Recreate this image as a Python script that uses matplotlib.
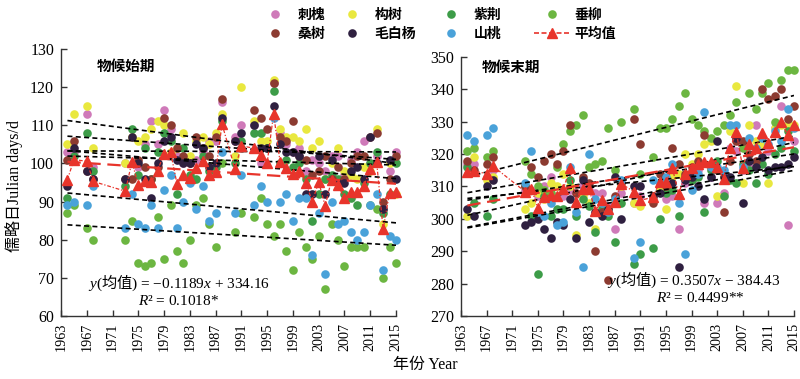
import matplotlib
matplotlib.use('Agg')
import matplotlib.pyplot as plt
from matplotlib.lines import Line2D
import numpy as np

# 字体设置：数字用 Times 风格，中文用 Noto Sans CJK
plt.rcParams['font.family'] = ['Liberation Serif', 'Noto Sans CJK SC']
plt.rcParams['mathtext.fontset'] = 'custom'
plt.rcParams['mathtext.rm'] = 'Noto Sans CJK SC'
plt.rcParams['mathtext.it'] = 'Liberation Serif:italic'

# 年份（1966、1969-1972、1989、1992 无数据）
years = [1964, 1965, 1967, 1968,
         1973, 1974, 1975, 1976, 1977, 1978, 1979, 1980, 1981, 1982, 1983, 1984, 1985, 1986, 1987, 1988,
         1990, 1991,
         1993, 1994, 1995, 1996, 1997, 1998, 1999, 2000, 2001, 2002, 2003, 2004, 2005, 2006, 2007, 2008,
         2009, 2010, 2011, 2012, 2013, 2014, 2015]

species = ['刺槐', '构树', '紫荆', '垂柳', '桑树', '毛白杨', '山桃']
colors = ['#cf7ab9', '#e9e83f', '#3d9c48', '#6cb641', '#8c3b31', '#2f2040', '#4aa2d9']
red = '#e8342b'

# 物候始期 (儒略日)
start_cihuai = [103, 103, 113, 99,
                100, 107, 99, 105, 111, 105, 114, 109, 102, 100, 100, 101, 103, 106, 106, 116,
                107, 110,
                110, 100, 104, 121, 108, 105, 103, 104, 98, 101, 100, 98, 102, 102, 97, 101, 103, 106, 100, 102, 88, 98, 103]
start_goushu = [105, 113, 115, 104,
                100, 107, 106, 107, 109, 111, 110, 103, 104, 108, 102, 106, 107, 105, 108, 113,
                102, 120,
                111, 106, 106, 122, 109, 107, 107, 106, 109, 104, 106, 96, 100, 104, 98, 97, 96, 99, 98, 109, 84, 100, 92]
start_zijing = [91, 102, 108, 98,
                94, 109, 97, 104, 96, 103, 108, 106, 92, 104, 97, 96, 102, 98, 99, 111,
                100, 106,
                108, 108, 104, 119, 100, 101, 99, 100, 96, 85, 92, 96, 97, 96, 92, 91, 89, 95, 100, 103, 87, 92, 100]
start_chuiliu = [87, 89, 83, 80,
                 80, 85, 74, 73, 74, 86, 75, 89, 77, 74, 80, 89, 91, 84, 78, 100,
                 82, 87,
                 86, 91, 84, 81, 84, 77, 72, 82, 78, 75, 81, 67, 84, 80, 73, 78, 78, 78, 89, 88, 70, 78, 74]
start_sangshu = [101, 106, 98, 96,
                 96, 96, 101, 99, 96, 99, 112, 110, 104, 102, 100, 107, 104, 102, 107, 117,
                 106, 104,
                 114, 112, 109, 121, 107, 106, 111, 102, 101, 97, 98, 102, 96, 99, 96, 100, 102, 102, 107, 108, 90, 96, 102]
start_maobaiyang = [94, 104, 98, 96,
                    96, 107, 100, 96, 91, 100, 106, 107, 101, 100, 100, 105, 104, 99, 100, 112,
                    106, 108,
                    110, 104, 104, 115, 105, 103, 103, 102, 92, 92, 102, 92, 101, 95, 95, 98, 99, 96, 107, 100, 88, 101, 96]
start_shantao = [89, 90, 89, 94,
                 83, 92, 84, 83, 89, 83, 93, 97, 83, 90, 95, 88, 94, 85, 87, 103,
                 87, 97,
                 89, 94, 90, 112, 90, 92, 85, 91, 91, 76, 87, 71, 90, 84, 85, 82, 80, 82, 89, 92, 72, 81, 80]

# 物候末期 (儒略日)
end_cihuai = [317, 317, 313, 315,
              309, 309, 307, 310, 313, 307, 307, 309, 308, 310, 309, 308, 308, 304, 297, 308,
              305, 307,
              306, 310, 306, 307, 297, 311, 312, 315, 305, 313, 305, 308, 322, 321, 315, 316, 329, 323, 321, 328, 335, 298, 324]
end_goushu = [301, 319, 312, 313,
              303, 305, 308, 306, 311, 310, 314, 310, 295, 307, 305, 297, 304, 303, 306, 310,
              305, 304,
              307, 309, 303, 313, 314, 320, 317, 320, 323, 324, 307, 313, 327, 341, 311, 329, 324, 323, 311, 328, 329, 329, 329]
end_zijing = [316, 305, 301, 306,
              310, 301, 283, 307, 301, 303, 303, 312, 301, 306, 304, 296, 303, 301, 293, 305,
              286, 289,
              291, 300, 308, 309, 301, 313, 312, 313, 302, 315, 318, 307, 312, 311, 317, 315, 311, 317, 314, 320, 322, 327, 321]
end_chuiliu = [321, 322, 319, 321,
               318, 314, 310, 309, 308, 316, 323, 327, 329, 332, 316, 317, 318, 328, 315, 330,
               334, 314,
               319, 328, 328, 331, 335, 339, 331, 329, 327, 325, 327, 329, 332, 336, 322, 339, 334, 339, 342, 330, 343, 346, 346]
end_sangshu = [318, 315, 317, 319,
               310, 316, 313, 318, 320, 317, 321, 329, 308, 313, 311, 290, 302, 281, 307, 311,
               331, 323,
               305, 314, 310, 322, 317, 314, 316, 318, 326, 316, 315, 302, 318, 324, 324, 320, 318, 340, 337, 338, 340, 331, 335]
end_maobaiyang = [303, 301, 310, 312,
                  298, 299, 300, 297, 294, 299, 298, 306, 294, 312, 299, 302, 301, 303, 313, 300,
                  310, 310,
                  307, 308, 311, 311, 285, 312, 313, 310, 306, 313, 324, 313, 313, 325, 305, 318, 316, 319, 315, 316, 316, 317, 319]
end_shantao = [326, 324, 326, 328,
               311, 321, 302, 301, 305, 298, 299, 316, 302, 285, 320, 306, 305, 302, 306, 312,
               288, 293,
               312, 311, 313, 317, 305, 289, 309, 314, 333, 316, 316, 315, 329, 329, 316, 325, 322, 325, 323, 327, 324, 334, 328]

start_data = [start_cihuai, start_goushu, start_zijing, start_chuiliu, start_sangshu, start_maobaiyang, start_shantao]
end_data = [end_cihuai, end_goushu, end_zijing, end_chuiliu, end_sangshu, end_maobaiyang, end_shantao]
for d in start_data + end_data:
    assert len(d) == len(years)

xticks = [1963, 1967, 1971, 1975, 1979, 1983, 1987, 1991, 1995, 1999, 2003, 2007, 2011, 2015]

W, H = 800, 379
fig = plt.figure(figsize=(W / 100, H / 100), dpi=100)
ax1 = fig.add_axes([61 / W, 1 - 316 / H, 335 / W, 267 / H])
ax2 = fig.add_axes([461 / W, 1 - 316 / H, 333 / W, 259 / H])

cjk = ['Noto Sans CJK SC']


def draw_panel(ax, data, ylim, ystep):
    x = np.array(years, dtype=float)
    # 各树种散点
    for c, vals in zip(colors, data):
        ax.plot(x, vals, 'o', color=c, ms=6.2, mec='none', clip_on=False, zorder=3)
    # 各树种线性趋势
    for vals in data:
        k, b = np.polyfit(x, vals, 1)
        ax.plot([x[0], x[-1]], [k * x[0] + b, k * x[-1] + b], color='black',
                ls=(0, (3, 2)), lw=1.2, zorder=4)
    # 平均值
    mean = np.mean(np.array(data, dtype=float), axis=0)
    ax.plot(x, mean, color=red, ls=(0, (3, 1.5, 1, 1.5)), lw=0.9, marker='^', ms=7.5,
            mec=red, clip_on=False, zorder=5)
    k, b = np.polyfit(x, mean, 1)
    ax.plot([x[0], x[-1]], [k * x[0] + b, k * x[-1] + b], color=red,
            ls=(0, (6, 3)), lw=1.6, zorder=6)

    ax.set_xlim(1963, 2015)
    ax.set_ylim(*ylim)
    ax.set_xticks(xticks)
    ax.set_xticklabels([str(t) for t in xticks], rotation=90)
    ax.set_yticks(np.arange(ylim[0], ylim[1] + 1, ystep))
    ax.spines['top'].set_visible(False)
    ax.spines['right'].set_visible(False)
    for s in ('left', 'bottom'):
        ax.spines[s].set_linewidth(1.0)
        ax.spines[s].set_color('#333333')
    ax.tick_params(direction='in', length=4, width=1, color='#333333')
    ax.tick_params(axis='y', labelsize=11.5, pad=5)
    ax.tick_params(axis='x', labelsize=10.2, pad=5)


draw_panel(ax1, start_data, (60, 130), 10)
draw_panel(ax2, end_data, (270, 350), 10)

ax1.text(0.194, 0.936, '物候始期', transform=ax1.transAxes, ha='center', va='center',
         fontsize=10.5, family=cjk, weight='bold')
ax2.text(0.151, 0.961, '物候末期', transform=ax2.transAxes, ha='center', va='center',
         fontsize=10.5, family=cjk, weight='bold')

ax1.text(0.352, 0.125, r'$\mathit{y}$($\mathrm{均值}$) = −0.1189$\mathit{x}$ + 334.16',
         transform=ax1.transAxes, ha='center', va='center', fontsize=11, zorder=8)
ax1.text(0.351, 0.057, r'$\mathit{R}$² = 0.1018*', transform=ax1.transAxes,
         ha='center', va='center', fontsize=11, zorder=8)
ax2.text(0.699, 0.14, r'$\mathit{y}$($\mathrm{均值}$) = 0.3507$\mathit{x}$ − 384.43',
         transform=ax2.transAxes, ha='center', va='center', fontsize=11, zorder=8)
ax2.text(0.718, 0.07, r'$\mathit{R}$² = 0.4499**', transform=ax2.transAxes,
         ha='center', va='center', fontsize=11, zorder=8)

fig.text(14 / W, 1 - 186 / H, '儒略日Julian days/d', rotation=90, ha='center', va='center', fontsize=11.5)
fig.text(425 / W, 1 - 365 / H, '年份 Year', ha='center', va='center', fontsize=11.5)

# 图例：四列，逐列放置
handles = [Line2D([], [], ls='none', marker='o', ms=6.2, color=c, mec='none') for c in colors]
handles.append(Line2D([], [], color=red, ls=(0, (3, 1.5)), lw=1.2, marker='^', ms=7.5))
labels = species + ['平均值']
columns = [(0, 4), (1, 5), (2, 6), (3, 7)]
col_x = [249, 326, 425, 526]
for (i, j), cx in zip(columns, col_x):
    leg = fig.legend([handles[i], handles[j]], [labels[i], labels[j]], loc='upper left',
                     bbox_to_anchor=(cx / W, 1.0), frameon=False, borderpad=0.1,
                     handlelength=2.5, handletextpad=0.4, labelspacing=0.35,
                     prop={'family': cjk, 'size': 10, 'weight': 'bold'})

fig.savefig('out.png', dpi=100)
